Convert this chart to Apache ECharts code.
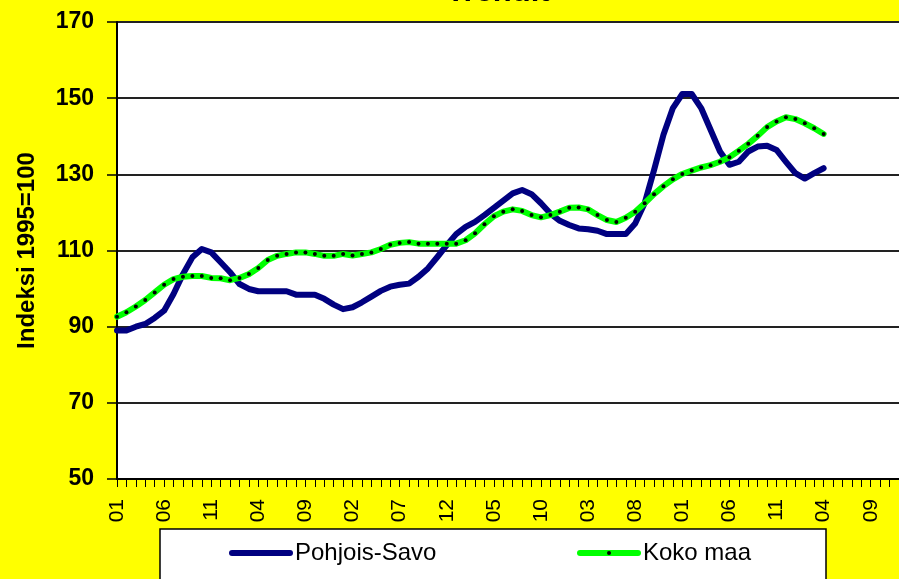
<!DOCTYPE html>
<html>
<head>
<meta charset="utf-8">
<script src="https://cdn.jsdelivr.net/npm/echarts@6/dist/echarts.min.js"></script>
<style>html,body{margin:0;padding:0;background:#FFFF00;}#c{width:899px;height:579px;}</style>
</head>
<body>
<div id="c"></div>
<script>
const categories = [
  "01","02","03","04","05","06","07","08","09","10","11","12",
  "01","02","03","04","05","06","07","08","09","10","11","12",
  "01","02","03","04","05","06","07","08","09","10","11","12",
  "01","02","03","04","05","06","07","08","09","10","11","12",
  "01","02","03","04","05","06","07","08","09","10","11","12",
  "01","02","03","04","05","06","07","08","09","10","11","12",
  "01","02","03","04","05","06","07","08","09","10","11","12"
];
const pohjoisSavo = [89.0, 89.0, 90.0, 90.7, 92.3, 94.2, 98.6, 103.8, 108.2, 110.4, 109.5, 106.9, 104.3, 101.2, 99.9, 99.3, 99.3, 99.3, 99.3, 98.4, 98.4, 98.4, 97.3, 95.8, 94.6, 95.1, 96.4, 97.9, 99.4, 100.5, 101.0, 101.3, 103.1, 105.3, 108.3, 111.4, 114.3, 116.2, 117.5, 119.3, 121.2, 123.1, 125.0, 125.9, 124.8, 122.4, 119.7, 117.8, 116.7, 115.8, 115.6, 115.2, 114.3, 114.3, 114.3, 117.1, 122.4, 131.1, 140.4, 147.4, 151.1, 151.1, 147.4, 141.7, 136.0, 132.5, 133.3, 136.0, 137.3, 137.5, 136.4, 133.3, 130.3, 128.9, 130.3, 131.6];
const kokoMaa = [92.6, 93.8, 95.3, 97.0, 99.0, 101.0, 102.5, 103.1, 103.3, 103.3, 102.8, 102.7, 102.2, 102.8, 103.8, 105.4, 107.5, 108.6, 109.1, 109.5, 109.5, 109.1, 108.6, 108.6, 109.1, 108.7, 109.1, 109.5, 110.4, 111.5, 112.0, 112.2, 111.8, 111.8, 111.8, 111.8, 111.8, 112.7, 114.5, 116.9, 119.0, 120.2, 120.8, 120.4, 119.3, 118.7, 119.3, 120.2, 121.2, 121.3, 120.8, 119.3, 118.0, 117.5, 118.6, 120.2, 122.4, 124.8, 126.9, 128.7, 130.1, 131.0, 131.8, 132.4, 133.3, 134.5, 136.2, 138.0, 140.1, 142.4, 143.9, 145.0, 144.5, 143.4, 142.1, 140.6];
const yTicks = { min: 50, max: 170, interval: 20 };

const FONT = "'Liberation Sans', Arial, sans-serif";
const chart = echarts.init(document.getElementById('c'), null, { renderer: 'canvas' });
chart.setOption({
  backgroundColor: '#FFFF00',
  animation: false,
  title: {
    text: 'Trendit',
    left: 493,
    textAlign: 'center',
    top: -28,
    textStyle: { fontFamily: FONT, fontSize: 31, fontWeight: 'bold', color: '#000' }
  },
  graphic: [{
    type: 'rect',
    z: 1,
    shape: { x: 160, y: 529, width: 666, height: 80 },
    style: { fill: '#fff', stroke: '#000', lineWidth: 1.5 }
  }],
  legend: [
    {
      data: ['Pohjois-Savo'], left: 224, top: 536, itemWidth: 58, itemHeight: 5, z: 5,
      lineStyle: { width: 6, cap: 'round' },
      itemStyle: { opacity: 0 },
      textStyle: { fontFamily: FONT, fontSize: 24, color: '#000' }
    },
    {
      data: ['Koko maa'], left: 572, top: 536, itemWidth: 58, itemHeight: 5, z: 5,
      lineStyle: { width: 6, cap: 'round' },
      textStyle: { fontFamily: FONT, fontSize: 24, color: '#000' }
    }
  ],
  grid: {
    left: 117, top: 22, width: 782, bottom: 100,
    show: true, backgroundColor: '#fff', borderWidth: 0,
    outerBoundsMode: 'none'
  },
  xAxis: {
    type: 'category',
    data: categories,
    boundaryGap: false,
    axisLine: { lineStyle: { color: '#000', width: 2 } },
    axisTick: { show: true, interval: 0, length: 8, lineStyle: { color: '#000', width: 1 } },
    axisLabel: { interval: 4, rotate: 90, margin: 20, fontFamily: FONT, fontSize: 21, color: '#000' },
    splitLine: { show: false }
  },
  yAxis: {
    type: 'value',
    min: yTicks.min, max: yTicks.max, interval: yTicks.interval,
    name: 'Indeksi 1995=100',
    nameLocation: 'middle',
    nameGap: 78,
    nameTextStyle: { fontFamily: FONT, fontSize: 24, fontWeight: 'bold', color: '#000' },
    axisLine: { show: true, lineStyle: { color: '#000', width: 2 } },
    axisTick: { show: true, length: 10, lineStyle: { color: '#000', width: 1.5 } },
    axisLabel: { margin: 23, fontFamily: FONT, fontSize: 23, fontWeight: 'bold', color: '#000' },
    splitLine: { show: true, lineStyle: { color: '#222', width: 2 } }
  },
  series: [
    {
      name: 'Pohjois-Savo',
      type: 'line',
      data: pohjoisSavo,
      symbol: 'none',
      lineStyle: { color: '#000080', width: 6, cap: 'round', join: 'round' },
      itemStyle: { color: '#000080' },
      z: 2
    },
    {
      name: 'Koko maa',
      type: 'line',
      data: kokoMaa,
      symbol: 'circle',
      symbolSize: 4,
      showSymbol: true,
      lineStyle: { color: '#00FF00', width: 6, cap: 'round', join: 'round' },
      itemStyle: { color: '#000' },
      z: 3
    }
  ]
});
</script>
</body>
</html>
